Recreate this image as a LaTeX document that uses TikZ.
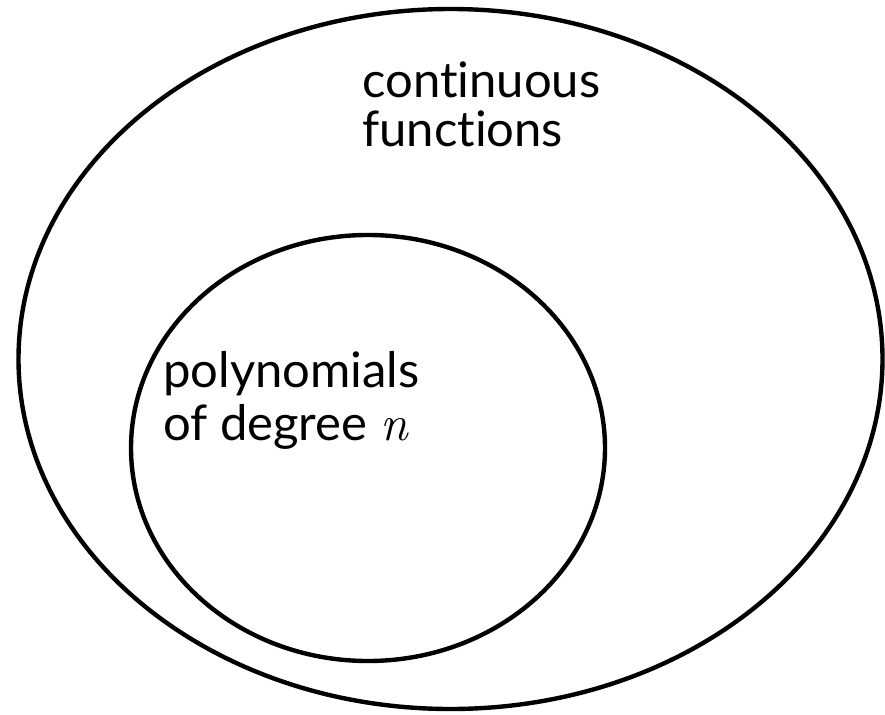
\documentclass[tikz,border=0pt]{standalone}
\usepackage{fontspec}
\setmainfont{Lato}[Ligatures={NoCommon}]
\newfontfamily\lmfont{Latin Modern Roman}
\begin{document}
\begin{tikzpicture}[x=1pt,y=-1pt,
  setline/.style={line width=4.4pt, draw=black},
  lbl/.style={anchor=base west, inner sep=0pt, font=\fontsize{49}{49}\selectfont}]
\useasboundingbox (0,0) rectangle (885,714);
\draw[setline] (450.5,359) ellipse [x radius=432, y radius=350];
\draw[setline] (368,448) ellipse [x radius=237, y radius=213];
\node[lbl] (c1) at (362,98) {continuous};
\node[lbl] (c2) at (362,147) {functions};
\node[lbl] (p1) at (163,387) {polynomials};
\node[lbl] (p2) at (163,440) {of degree {\lmfont\itshape\fontsize{50}{50}\selectfont n}};
\end{tikzpicture}
\end{document}
